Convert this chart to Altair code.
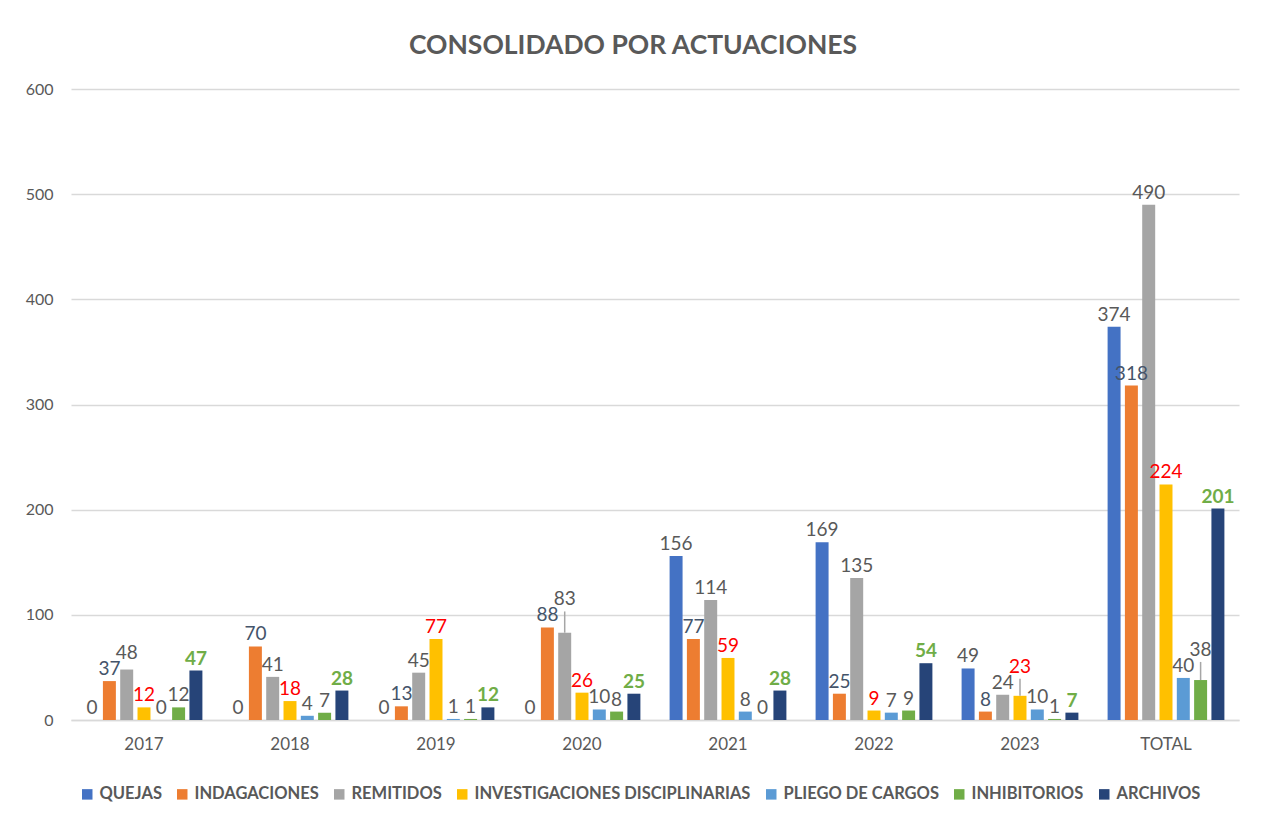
import altair as alt
import pandas as pd

grupos = ["2017", "2018", "2019", "2020", "2021", "2022", "2023", "TOTAL"]
series = ["QUEJAS", "INDAGACIONES", "REMITIDOS", "INVESTIGACIONES DISCIPLINARIAS",
          "PLIEGO DE CARGOS", "INHIBITORIOS", "ARCHIVOS"]

quejas = [0, 0, 0, 0, 156, 169, 49, 374]
indagaciones = [37, 70, 13, 88, 77, 25, 8, 318]
remitidos = [48, 41, 45, 83, 114, 135, 24, 490]
investigaciones = [12, 18, 77, 26, 59, 9, 23, 224]
pliego = [0, 4, 1, 10, 8, 7, 10, 40]
inhibitorios = [12, 7, 1, 8, 0, 9, 1, 38]
archivos = [47, 28, 12, 25, 28, 54, 7, 201]

bar_colors = ["#4472C4", "#ED7D31", "#A5A5A5", "#FFC000", "#5B9BD5", "#70AD47", "#264478"]
label_colors = ["#595959", "#44546A", "#595959", "#FF0000", "#595959", "#595959", "#70AD47"]

FONT = "Lato"
GRAY = "#595959"
W, H = 1168, 631
YMAX = 600
LABEL_SIZE = 19
PAD_INNER, SUB_PAD = 0.2, 0.25

# --- simple label collision avoidance (Excel-like leader lines) ---
ppu = H / YMAX
band = (W / len(grupos)) * (1 - PAD_INNER)
sub_step = band / (len(series) - SUB_PAD)
digit_w = 0.58 * LABEL_SIZE
text_h = 16
lift_px = 12

valores = [quejas, indagaciones, remitidos, investigaciones, pliego, inhibitorios, archivos]
rows = []
for gi, g in enumerate(grupos):
    placed = []
    for si, (s, vals) in enumerate(zip(series, valores)):
        v = vals[gi]
        cx = si * sub_step
        w = len(str(v)) * digit_w
        yc = v * ppu + lift_px
        for _ in range(20):
            moved = False
            for (pcx, pyc, pw) in placed:
                if abs(cx - pcx) < (w + pw) / 2 and abs(yc - pyc) < text_h - 0.01:
                    yc = pyc + text_h
                    moved = True
            if not moved:
                break
        placed.append((cx, yc, w))
        label_y = (yc - lift_px) / ppu
        rows.append({"grupo": g, "serie": s, "valor": v, "serie_lbl": s,
                     "label_y": label_y,
                     "leader": bool(label_y - v > 6)})
df = pd.DataFrame(rows)

xenc = alt.X("grupo:N", sort=grupos, title=None,
             scale=alt.Scale(paddingInner=PAD_INNER, paddingOuter=PAD_INNER / 2),
             axis=alt.Axis(labelAngle=0, labelFontSize=17, labelColor=GRAY, labelFont=FONT,
                           ticks=False, domainColor="#D9D9D9", domainWidth=1.5,
                           labelPadding=16))
xoff = alt.XOffset("serie:N", sort=series, scale=alt.Scale(paddingInner=SUB_PAD))
yscale = alt.Scale(domain=[0, YMAX])

base = alt.Chart(df).encode(x=xenc, xOffset=xoff)

bars = base.mark_bar().encode(
    y=alt.Y("valor:Q", title=None, scale=yscale,
            axis=alt.Axis(values=[0, 100, 200, 300, 400, 500, 600], labelFontSize=16,
                          labelColor=GRAY, labelFont=FONT, ticks=False, domain=False,
                          gridColor="#D9D9D9", gridWidth=1.5, labelPadding=18)),
    color=alt.Color("serie:N", sort=series,
                    scale=alt.Scale(domain=series, range=bar_colors),
                    legend=alt.Legend(title=None, orient="none", direction="horizontal",
                                      columns=7, legendX=8, legendY=697,
                                      symbolType="square", symbolSize=110,
                                      symbolStrokeWidth=0, labelFontSize=16.5,
                                      labelFontWeight="bold", labelColor=GRAY,
                                      labelFont=FONT, columnPadding=12, labelOffset=4,
                                      labelLimit=400))
)

leaders = base.mark_rule(color="#A6A6A6", strokeWidth=1.5).encode(
    y=alt.Y("valor:Q", scale=yscale),
    y2="label_y:Q",
).transform_filter(alt.datum.leader)

text_color = alt.Color("serie_lbl:N", sort=series,
                       scale=alt.Scale(domain=series, range=label_colors), legend=None)

labels = base.mark_text(dy=-lift_px, fontSize=LABEL_SIZE, font=FONT).encode(
    y=alt.Y("label_y:Q", scale=yscale),
    text=alt.Text("valor:Q"), color=text_color
).transform_filter(alt.datum.serie != "ARCHIVOS")

labels_arch = base.mark_text(dy=-lift_px, fontSize=LABEL_SIZE, font=FONT,
                             fontWeight="bold").encode(
    y=alt.Y("label_y:Q", scale=yscale),
    text=alt.Text("valor:Q"), color=text_color
).transform_filter(alt.datum.serie == "ARCHIVOS")

chart = alt.layer(bars, leaders, labels, labels_arch).resolve_scale(
    color="independent"
).properties(
    width=W, height=H,
    title=alt.TitleParams("CONSOLIDADO POR ACTUACIONES", fontSize=26.5, font=FONT,
                          fontWeight="bold", color=GRAY, offset=22, dx=-22),
    autosize=alt.AutoSizeParams(type="none"),
    padding={"left": 63, "top": 81, "right": 14, "bottom": 95},
    background="white",
).configure_view(stroke=None)

chart.save("out.html", embed_options={"renderer": "svg", "actions": False})
